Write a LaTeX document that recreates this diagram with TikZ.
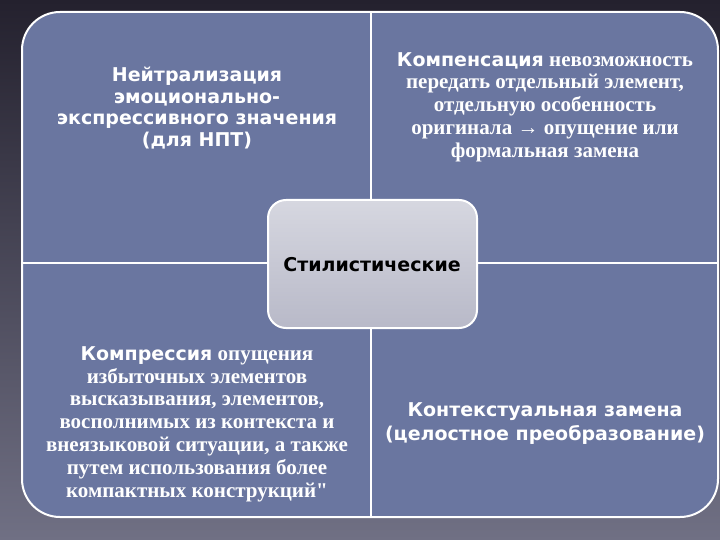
\documentclass[tikz,border=0pt]{standalone}
\usepackage{fontspec}
\setmainfont{Liberation Serif}
\newfontfamily\headfont{DejaVu Sans}
\newfontfamily\plainserif{Liberation Serif}
\usetikzlibrary{positioning}
\definecolor{panelblue}{RGB}{106,118,160}
\definecolor{bgtop}{RGB}{36,33,46}
\definecolor{bgbottom}{RGB}{112,112,132}
\definecolor{hubtop}{RGB}{214,215,224}
\definecolor{hubbottom}{RGB}{184,185,200}
\newcommand{\hd}[1]{{\headfont #1}}

\begin{document}
\begin{tikzpicture}[x=1pt,y=-1pt,
    panel/.style={draw=white, line width=2pt, fill=panelblue},
    divider/.style={draw=white, line width=2pt},
    hub/.style={draw=white, line width=2pt, rounded corners=18pt,
      top color=hubtop, bottom color=hubbottom},
    headtext/.style={text=white, align=center,
      font=\headfont\bfseries\fontsize{19}{21.7}\selectfont},
    bodytext/.style={text=white, align=center,
      font=\bfseries\fontsize{21}{22.8}\selectfont}]
          % background
          \fill[top color=bgtop, bottom color=bgbottom] (0,0) rectangle (720,540);
          \useasboundingbox (0,0) rectangle (720,540);
          % frame and quadrants
          \draw[panel, rounded corners=38pt] (22,12) rectangle (718,517);
          \draw[divider] (371,12) -- (371,517);
          \draw[divider] (22,263) -- (718,263);
          % centre
          \draw[hub] (268,200) rectangle (477,328);
          \node[font=\headfont\bfseries\fontsize{19}{22}\selectfont] (hub) at (372,265) {Стилистические};
          % quadrant texts
          \node[headtext] (neutral) at (197,108) {Нейтрализация\\эмоционально-\\экспрессивного значения\\(для НПТ)};
          \node[bodytext] (compens) at (545,107) {\hd{\fontsize{19}{22.8}\selectfont Компенсация} невозможность\\передать отдельный элемент,\\отдельную особенность\\оригинала → опущение или\\формальная замена};
          \node[bodytext] (compress) at (197,424) {\hd{\fontsize{19}{22.8}\selectfont Компрессия} опущения\\избыточных элементов\\высказывания, элементов,\\восполнимых из контекста и\\внеязыковой ситуации, а также\\путем использования более\\компактных конструкций{\plainserif"}};
          \node[headtext, font=\headfont\bfseries\fontsize{19}{24}\selectfont] (context) at (545,424) {Контекстуальная замена\\(целостное преобразование)};
        \end{tikzpicture}
\end{document}
